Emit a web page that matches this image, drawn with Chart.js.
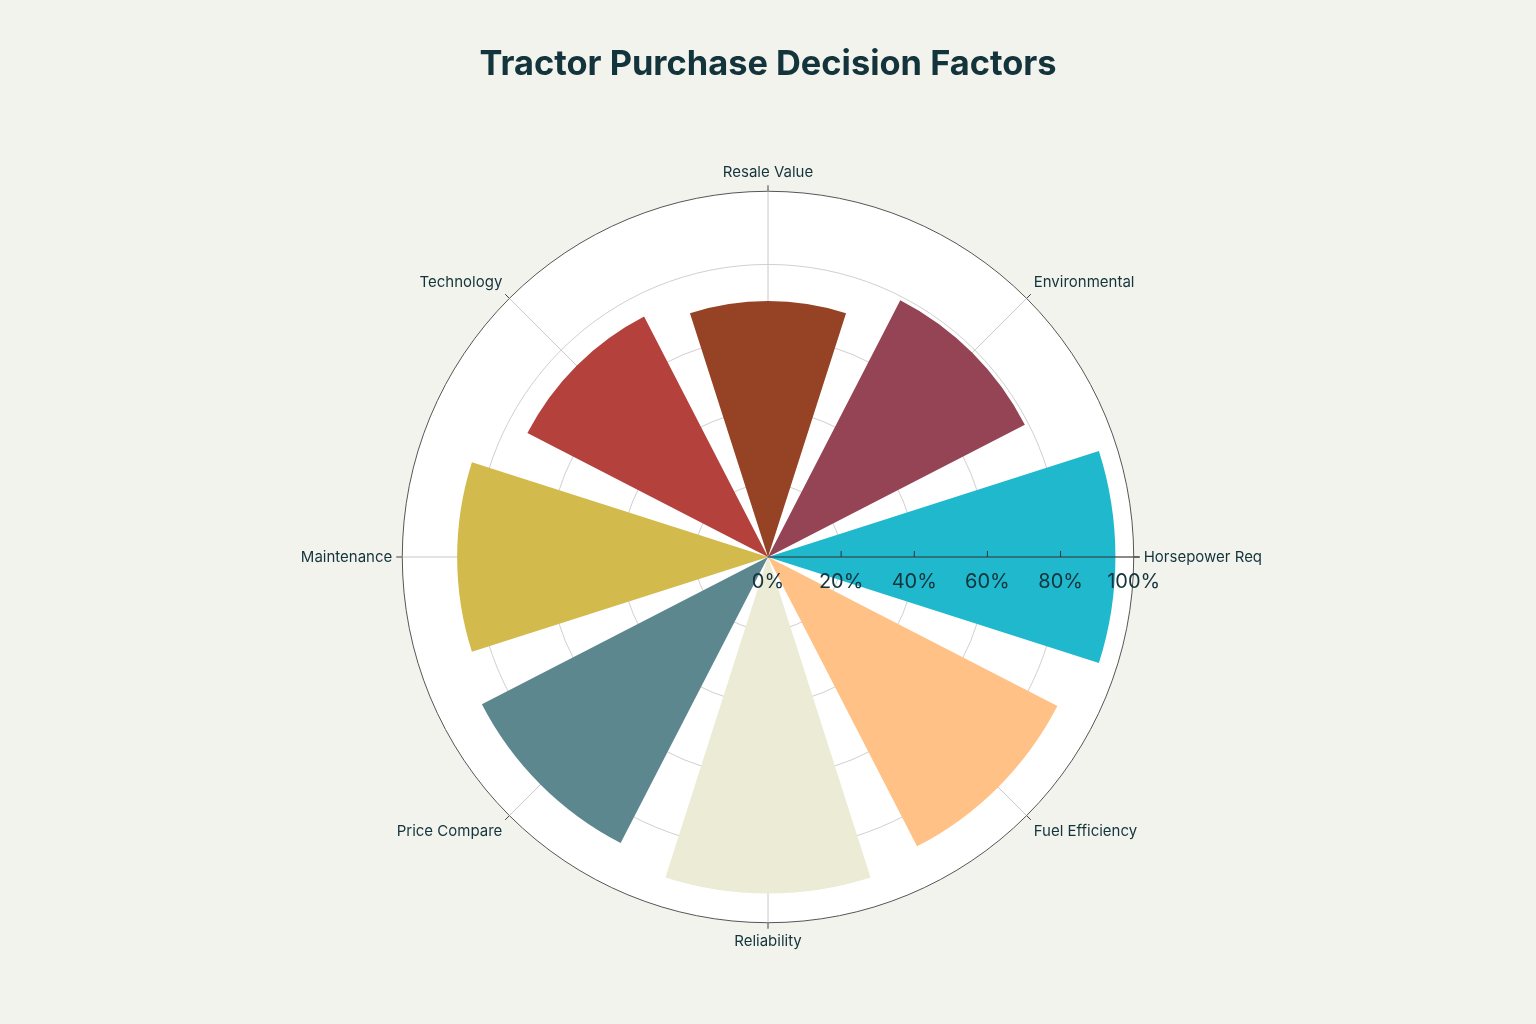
<!DOCTYPE html>
<html>
<head>
<meta charset="utf-8">
<script src="https://cdn.jsdelivr.net/npm/chart.js@4.4.1/dist/chart.umd.min.js"></script>
<style>
  html, body { margin: 0; padding: 0; background: #F3F3EE; }
  #wrap { width: 1536px; height: 1024px; }
</style>
</head>
<body>
<div id="wrap"><canvas id="myChart"></canvas></div>
<script>
// clockwise from the top
const categories = ['Resale Value', 'Environmental', 'Horsepower Req', 'Fuel Efficiency',
  'Reliability', 'Price Compare', 'Maintenance', 'Technology'];
const values = [70, 79, 95, 89, 92, 88, 85, 74];
const colors = ['#964325', '#944454', '#1FB8CD', '#FFC185',
  '#ECEBD5', '#5D878F', '#D2BA4C', '#B4413C'];
const tickValues = [0, 20, 40, 60, 80, 100];
const tickLabels = ['0%', '20%', '40%', '60%', '80%', '100%'];

const wedgeAngle = 35.5;
const gapAngle = 45 - wedgeAngle;

// every wedge sits between two empty arcs so the gaps are angular
const labels = [];
const data = [0];
const angles = [gapAngle / 2];
const bg = ['rgba(0,0,0,0)'];
categories.forEach((c, i) => {
  labels.push('', c);
  data.push(values[i], 0);
  angles.push(wedgeAngle, gapAngle);
  bg.push(colors[i], 'rgba(0,0,0,0)');
});
angles[angles.length - 1] = gapAngle / 2;

const axisPlugin = {
  id: 'axisPlugin',
  afterDatasetsDraw(chart) {
    const ctx = chart.ctx;
    const r = chart.scales.r;
    const cx = r.xCenter, cy = r.yCenter;
    const outer = r.getDistanceFromCenterForValue(100);
    ctx.save();
    // little ticks outside the circle for each category
    ctx.strokeStyle = '#444';
    ctx.lineWidth = 1;
    labels.forEach((l, i) => {
      if (!l) return;
      const a = r.getIndexAngle(i) - Math.PI / 2;
      ctx.beginPath();
      ctx.moveTo(cx + Math.cos(a) * outer, cy + Math.sin(a) * outer);
      ctx.lineTo(cx + Math.cos(a) * (outer + 6), cy + Math.sin(a) * (outer + 6));
      ctx.stroke();
    });
    // radial axis along 0 degrees
    ctx.strokeStyle = '#333';
    ctx.beginPath();
    ctx.moveTo(cx, cy);
    ctx.lineTo(cx + outer + 6, cy);
    ctx.stroke();
    ctx.fillStyle = '#13343B';
    ctx.font = '20px Inter';
    ctx.textAlign = 'center';
    ctx.textBaseline = 'middle';
    tickValues.forEach((v, i) => {
      const x = cx + r.getDistanceFromCenterForValue(v);
      if (i > 0 && i < tickValues.length - 1) {
        ctx.beginPath();
        ctx.moveTo(x, cy);
        ctx.lineTo(x, cy - 6);
        ctx.stroke();
      }
      ctx.fillText(tickLabels[i], x, cy + 25);
    });
    ctx.restore();
  }
};

new Chart(document.getElementById('myChart'), {
  type: 'polarArea',
  data: {
    labels: labels,
    datasets: [{
      data: data,
      angle: angles,
      backgroundColor: bg,
      borderWidth: 0
    }]
  },
  options: {
    responsive: true,
    maintainAspectRatio: false,
    animation: false,
    layout: { padding: { bottom: 73 } },
    plugins: {
      legend: { display: false },
      tooltip: { enabled: false },
      title: {
        display: true,
        text: 'Tractor Purchase Decision Factors',
        color: '#13343B',
        font: { family: 'Inter', size: 34.4, weight: 'bold' },
        padding: { top: 44, bottom: 78 }
      }
    },
    scales: {
      r: {
        min: 0,
        max: 100,
        startAngle: -22.5,
        backgroundColor: '#FFFFFF',
        ticks: { display: false, stepSize: 20 },
        grid: {
          circular: true,
          color: ctx => ctx.tick && ctx.tick.value === 100 ? '#555' : '#D0D0D0',
          lineWidth: 1
        },
        angleLines: {
          display: true,
          color: ctx => ctx.label ? '#C8C8C8' : 'rgba(0,0,0,0)',
          lineWidth: 1
        },
        pointLabels: {
          display: true,
          padding: 10,
          color: '#13343B',
          font: { family: 'Inter', size: 15 }
        }
      }
    }
  },
  plugins: [axisPlugin]
});
</script>
</body>
</html>
